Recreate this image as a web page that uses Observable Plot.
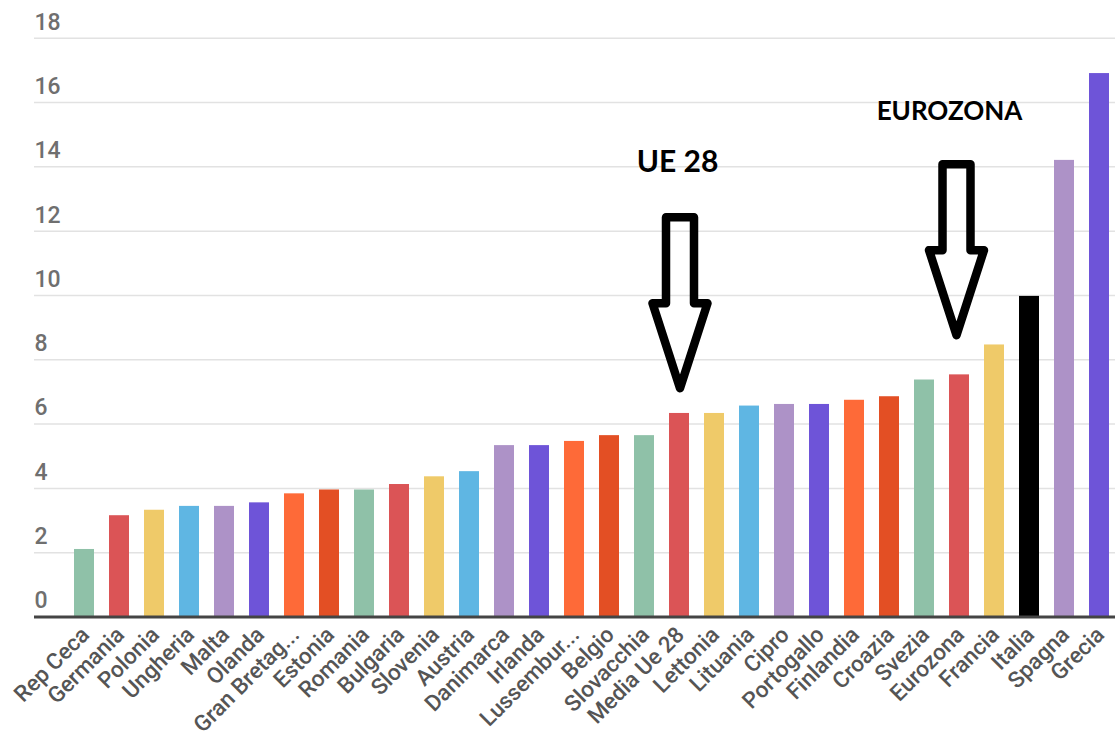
<!DOCTYPE html>
<html>
<head>
<meta charset="utf-8">
<script src="https://cdn.jsdelivr.net/npm/d3@7"></script>
<script src="https://cdn.jsdelivr.net/npm/@observablehq/plot@0.6"></script>
<style>
  html, body { margin: 0; padding: 0; background: #fff; }
  #chart svg { display: block; }
</style>
</head>
<body>
<div id="chart"></div>
<script>
// ---- Data ----
const countries = ["Rep Ceca","Germania","Polonia","Ungheria","Malta","Olanda","Gran Bretag...","Estonia","Romania","Bulgaria","Slovenia","Austria","Danimarca","Irlanda","Lussembur...","Belgio","Slovacchia","Media Ue 28","Lettonia","Lituania","Cipro","Portogallo","Finlandia","Croazia","Svezia","Eurozona","Francia","Italia","Spagna","Grecia"];
const values = [2.1,3.15,3.32,3.44,3.44,3.55,3.83,3.95,3.95,4.12,4.36,4.52,5.33,5.33,5.46,5.64,5.64,6.33,6.33,6.56,6.61,6.61,6.74,6.85,7.37,7.53,8.46,9.97,14.2,16.9];
const yTicks = [0,2,4,6,8,10,12,14,16,18];

// annotations
const annoCountries = ["Media Ue 28","Eurozona"];
const annoLabels = ["UE 28","EUROZONA"];
const annoLabelY = [13.85, 15.46];
const annoTipY = [7.1, 8.75];

// ---- Styles ----
const palette = ["#8FC1A8","#DB5456","#EFCA69","#5FB6E3","#AD92C7","#6E54D8","#FE6A38","#E34F24"];
const barColors = countries.map((c, i) => c === "Italia" ? "#000000" : palette[i % palette.length]);

const data = countries.map((c, i) => ({country: c, value: values[i]}));
const annos = annoCountries.map((c, i) => ({country: c, label: annoLabels[i], ly: annoLabelY[i], tip: annoTipY[i]}));

const chart = Plot.plot({
  width: 1115,
  height: 740,
  marginLeft: 34,
  marginRight: 0,
  marginTop: 37.7,
  marginBottom: 123.5,
  style: {fontFamily: "Roboto, sans-serif", background: "#fff", overflow: "visible"},
  x: {domain: countries, range: [61.86, 1120.5], paddingInner: 0.42, paddingOuter: 0.21, label: null},
  y: {domain: [0, 18], label: null},
  color: {domain: countries, range: barColors},
  marks: [
    Plot.gridY(yTicks, {stroke: "#e2e2e2", strokeOpacity: 1, strokeWidth: 1.5}),
    Plot.axisY(yTicks, {tickSize: 0, tickPadding: 0, textAnchor: "start", dy: -16, fontSize: 23, fontWeight: 500, fill: "#6f6f6f", label: null}),
    Plot.barY(data, {x: "country", y: "value", fill: "country"}),
    Plot.ruleY([0], {stroke: "#444", strokeWidth: 3}),
    Plot.axisX({tickSize: 0, tickRotate: -45, tickPadding: 14, dx: 1, fontSize: 22.5, fontWeight: 500, fill: "#555", label: null}),
    Plot.text([annos[0]], {x: "country", y: "ly", text: "label", dx: -2, fontSize: 30, fontWeight: 700, fontFamily: "Lato", fill: "#000", lineAnchor: "bottom"}),
    Plot.text([annos[1]], {x: "country", y: "ly", text: "label", dx: -10, fontSize: 26, fontWeight: 700, fontFamily: "Lato", fill: "#000", lineAnchor: "bottom"})
  ]
});

document.getElementById("chart").appendChild(chart);

// hollow block arrows, positioned through the plot's scales
const sx = chart.scale("x"), sy = chart.scale("y");
const arrowDx = [1, -2.5];
const shaftHalf = 14, headHalf = 27.5, shaftLen = 86, headLen = 85;
annos.forEach((a, i) => {
  const cx = sx.apply(a.country) + sx.bandwidth / 2 + arrowDx[i];
  const tipY = sy.apply(a.tip);
  const shoulder = tipY - headLen;
  const top = shoulder - shaftLen;
  const d = `M${cx - shaftHalf},${top} L${cx + shaftHalf},${top} L${cx + shaftHalf},${shoulder} L${cx + headHalf},${shoulder} L${cx},${tipY} L${cx - headHalf},${shoulder} L${cx - shaftHalf},${shoulder} Z`;
  d3.select(chart).append("path")
    .attr("d", d)
    .attr("fill", "none")
    .attr("stroke", "#000")
    .attr("stroke-width", 8.5)
    .attr("stroke-linejoin", "round");
});
</script>
</body>
</html>
